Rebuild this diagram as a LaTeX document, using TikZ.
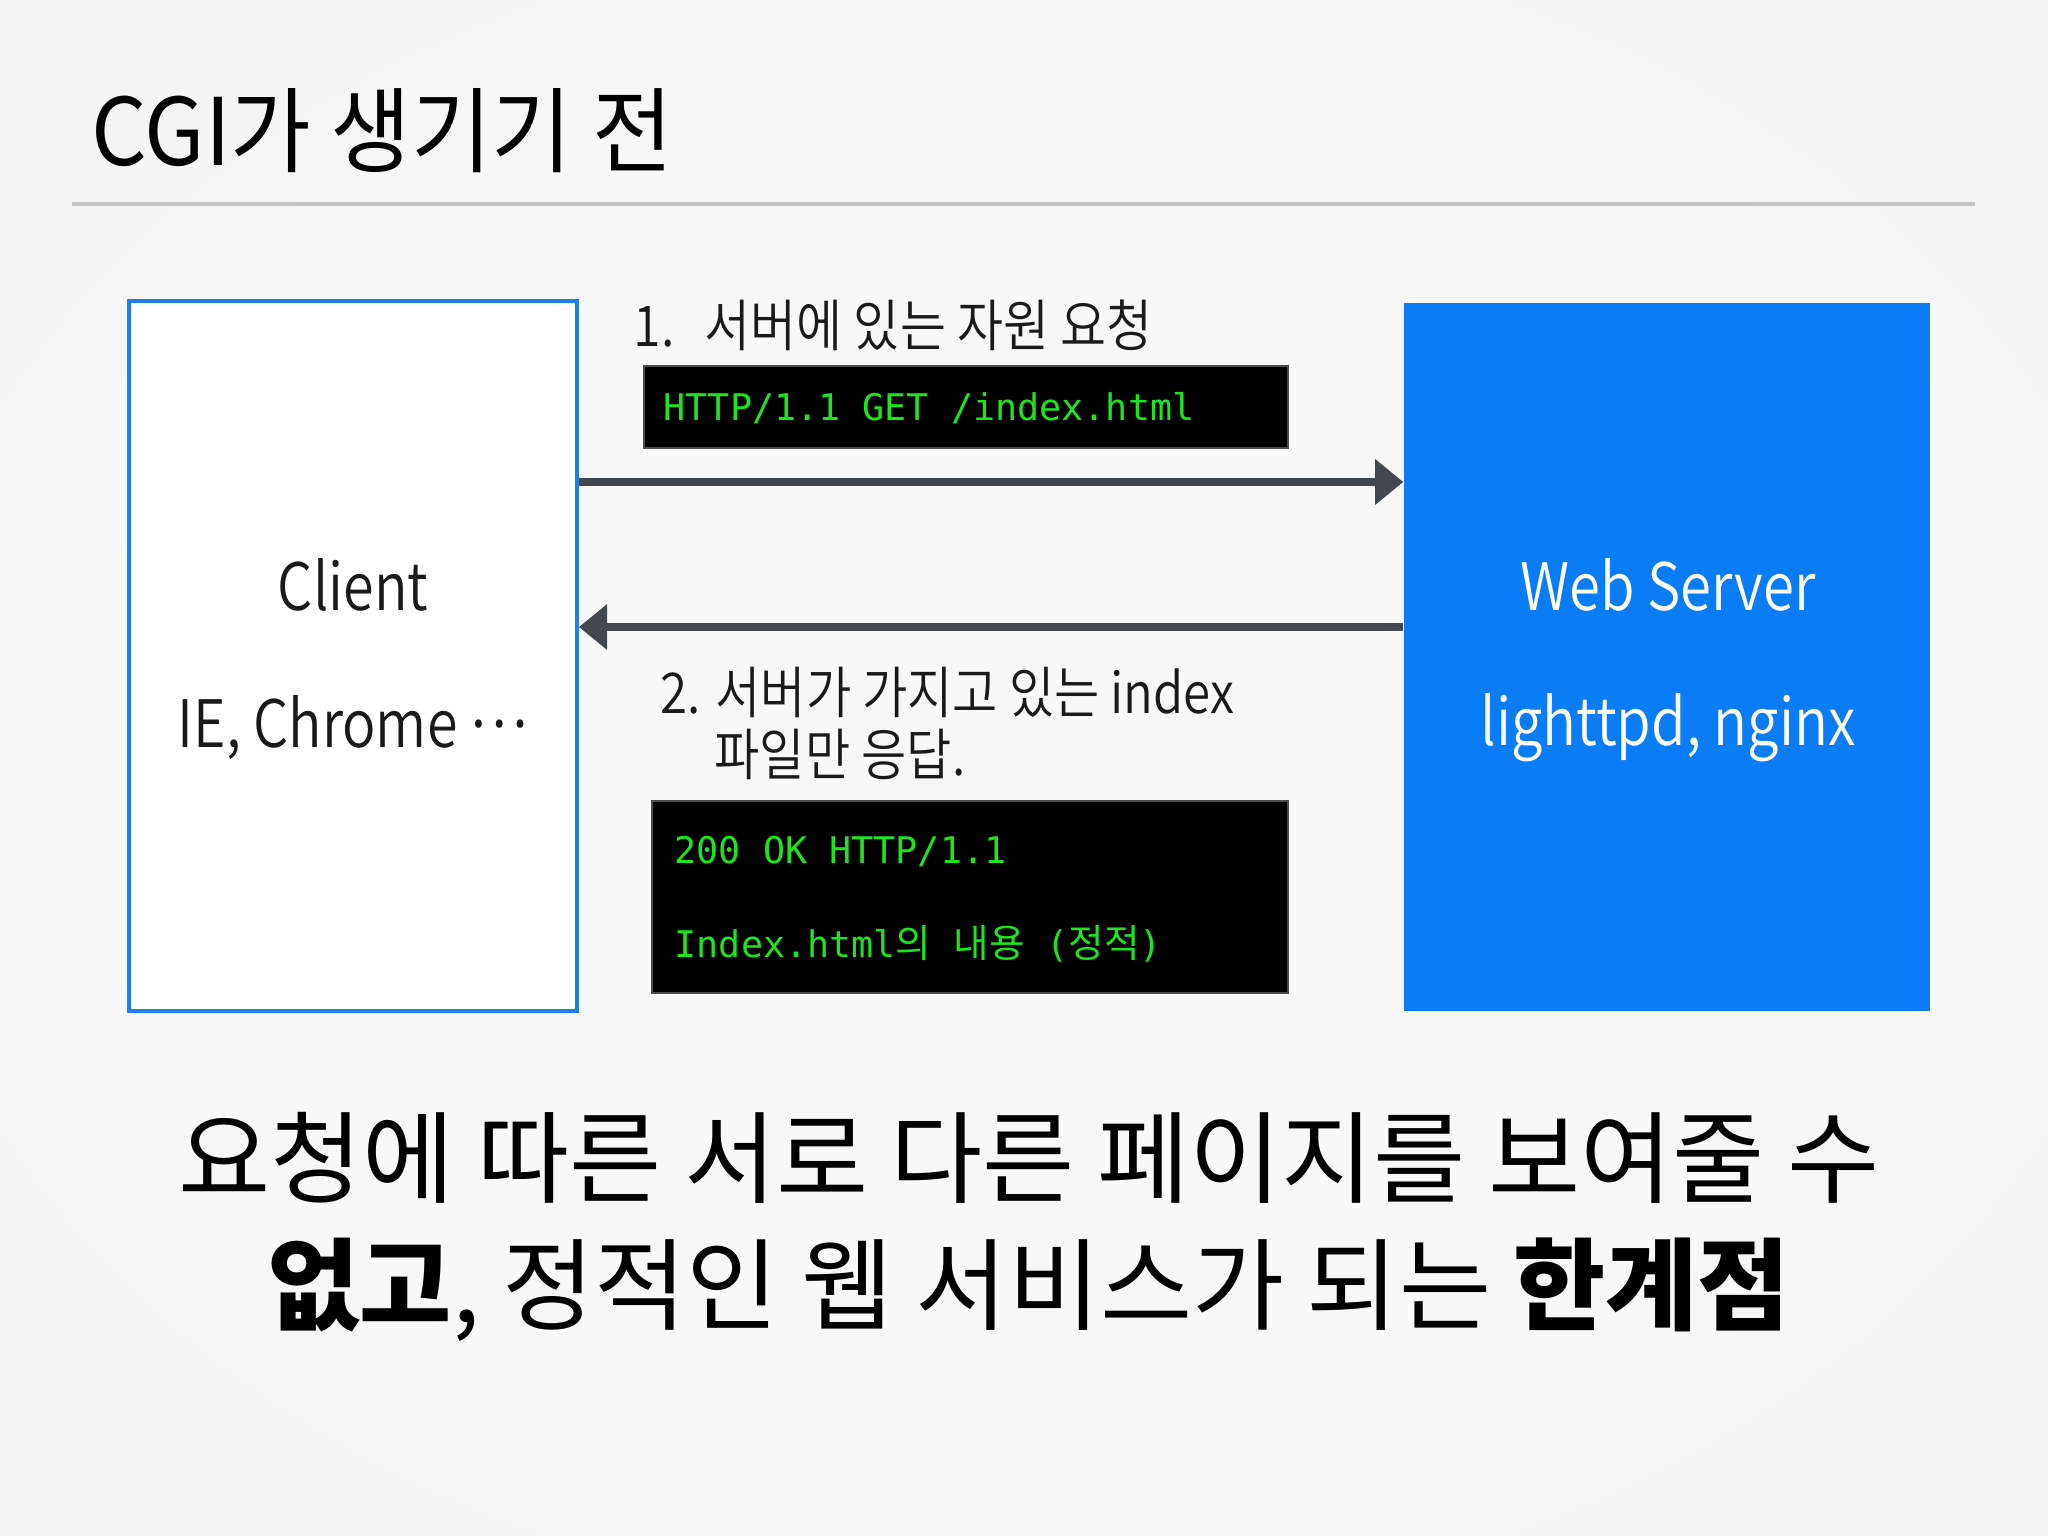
\documentclass[tikz,border=0pt]{standalone}
\usepackage{fontspec}
\usepackage{graphicx}
\setmainfont{Noto Sans CJK KR}
\newfontfamily\kr{Noto Sans CJK KR}
\IfFontExistsTF{Noto Sans CJK KR DemiLight}{\newfontfamily\krl{Noto Sans CJK KR DemiLight}}{\newfontfamily\krl{Noto Sans CJK KR}}
\newfontfamily\mono{DejaVu Sans Mono}
\usetikzlibrary{arrows.meta}
\definecolor{bgin}{HTML}{F8F8F8}
\definecolor{bgout}{HTML}{E2E2E4}
\definecolor{clientblue}{HTML}{1F80EC}
\definecolor{serverblue}{HTML}{0A7CF6}
\definecolor{arrowgray}{HTML}{43474F}
\definecolor{codegreen}{HTML}{1EE41E}
\definecolor{rulegray}{HTML}{C4C4C4}
\definecolor{txt}{HTML}{1A1A1A}
\pgfdeclareradialshading{bgshade}{\pgfpoint{0bp}{0bp}}{color(0bp)=(bgin); color(22bp)=(bgin); color(72bp)=(bgout)}
\newcommand{\sx}[2]{\scalebox{#1}[1]{#2}}
\tikzset{
  boxlabel/.style={inner sep=0pt, anchor=base, font=\krl\fontsize{18.6pt}{22pt}\selectfont},
  steplabel/.style={inner sep=0pt, anchor=base west, text=txt, font=\krl\fontsize{16pt}{19pt}\selectfont},
  codebox/.style={fill=black, draw=black!70, line width=0.3pt, inner sep=0pt},
  codetext/.style={inner sep=0pt, anchor=base west, text=codegreen, font=\fontsize{10.45pt}{12pt}\selectfont},
  arr/.style={draw=arrowgray, line width=2pt, -{Triangle[length=8pt,width=12.5pt]}},
  bigtext/.style={inner sep=0pt, anchor=base, text=black, font=\fontsize{28.5pt}{32pt}\selectfont}
}
\begin{document}
\begin{tikzpicture}
\useasboundingbox (0,0) rectangle (20.48,-15.36);
\shade[shading=bgshade] (0,0) rectangle (20.48,-15.36);

% title
\node[inner sep=0pt, anchor=base west, font=\fontsize{26.5pt}{30pt}\selectfont] (title) at (0.91,-1.66) {\sx{0.94}{CGI가 생기기 전}};
\coordinate (ruleL) at (0.72,-2.04);
\coordinate (ruleR) at (19.75,-2.04);
\draw[rulegray, line width=0.9pt] (ruleL) -- (ruleR);

% boxes
\node[draw=clientblue, line width=1.1pt, fill=white, minimum width=4.48cm, minimum height=7.10cm, inner sep=0pt] (client) at (3.53,-6.56) {};
\node[fill=serverblue, minimum width=5.26cm, minimum height=7.08cm, inner sep=0pt] (server) at (16.67,-6.57) {};

\node[boxlabel, text=txt] (clientname) at (3.53,-6.10) {\sx{0.85}{Client}};
\node[boxlabel, text=txt] (clientex) at (3.53,-7.47) {\sx{0.85}{IE, Chrome \raisebox{0.3em}{…}}};
\node[boxlabel, text=white] (servername) at (16.68,-6.10) {\sx{0.86}{Web Server}};
\node[boxlabel, text=white] (serverex) at (16.68,-7.45) {\sx{0.86}{lighttpd, nginx}};

% step 1
\node[steplabel] (step1) at (6.33,-3.47) {\sx{0.89}{1.\hspace{0.6em}서버에 있는 자원 요청}};
\node[codebox, minimum width=6.44cm, minimum height=0.82cm] (code1) at (9.66,-4.07) {};
\node[codetext] (code1t) at (6.63,-4.21) {\mono HTTP/1.1 GET /index.html};

% arrows
\coordinate (a1) at (10,-4.82);
\coordinate (a2) at (10,-6.27);
\draw[arr] (client.east |- a1) -- (server.west |- a1);
\draw[arr] (server.west |- a2) -- (client.east |- a2);

% step 2
\node[steplabel] (step2a) at (6.60,-7.14) {\sx{0.875}{2. 서버가 가지고 있는 index}};
\node[steplabel] (step2b) at (7.14,-7.76) {\sx{0.875}{파일만 응답.}};
\node[codebox, minimum width=6.36cm, minimum height=1.92cm] (code2) at (9.70,-8.97) {};
\node[codetext] (code2a) at (6.74,-8.63) {\mono 200 OK HTTP/1.1};
\node[codetext] (code2b) at (6.74,-9.57) {{\mono Index.html}{\kr\fontsize{11pt}{12pt}\selectfont 의}{\mono\ }{\kr\fontsize{11pt}{12pt}\selectfont 내용}{\mono\ (}{\kr\fontsize{11pt}{12pt}\selectfont 정적}{\mono )}};

% bottom text
\node[bigtext] (line1) at (10.29,-11.95) {요청에 따른 서로 다른 페이지를 보여줄 수};
\node[bigtext] (line2) at (10.29,-13.22) {\textbf{없고}, 정적인 웹 서비스가 되는 \textbf{한계점}};
\end{tikzpicture}
\end{document}
